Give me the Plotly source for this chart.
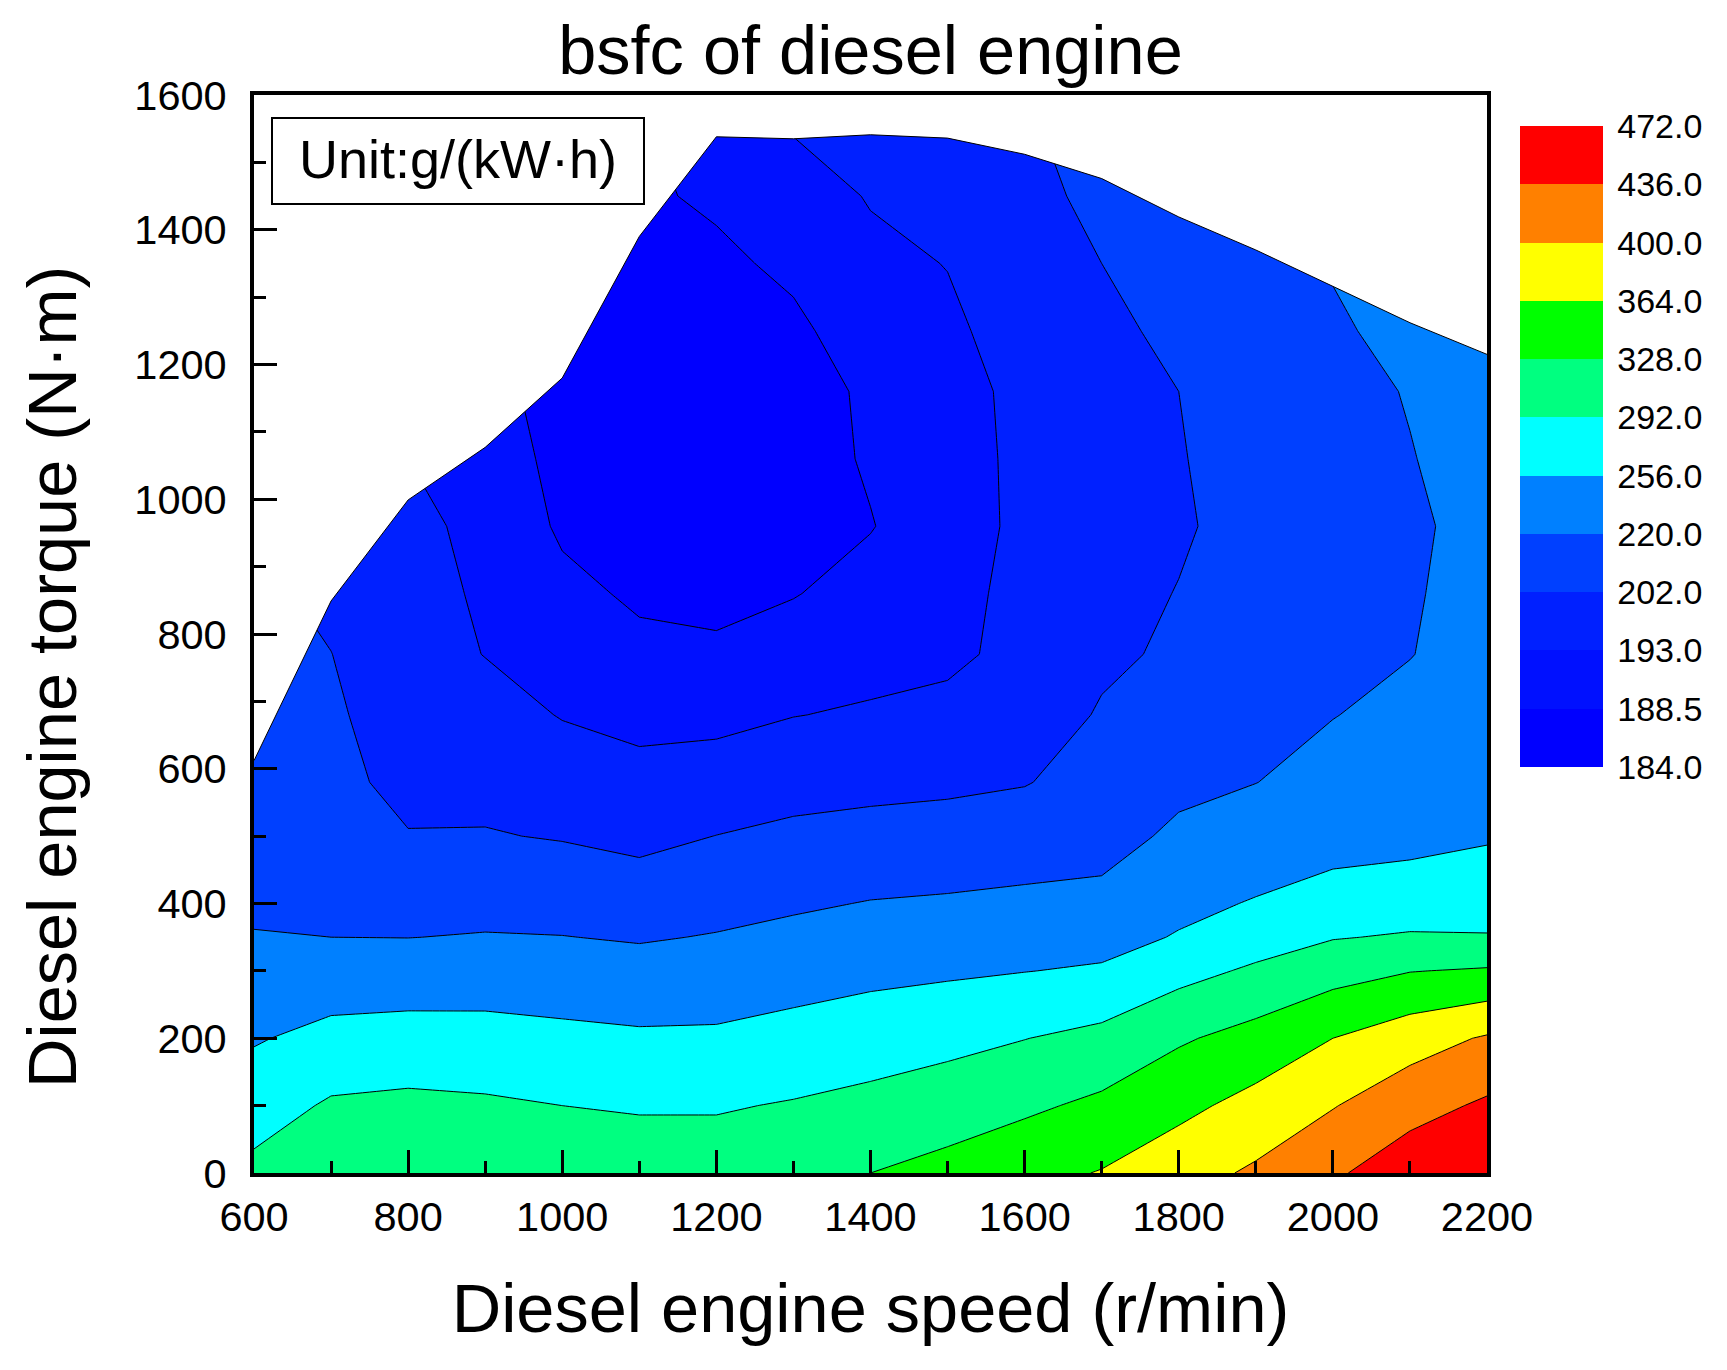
import numpy as np
import plotly.graph_objects as go

# speed (r/min) and torque (N.m) grid the bsfc map is read on
speed = [600, 700, 800, 900, 1000, 1100, 1200, 1300, 1400, 1500, 1600, 1700, 1800, 1900, 2000, 2100, 2200]
torque = [0, 100, 200, 300, 350, 400, 500, 580, 680, 770, 860, 960, 1060, 1160, 1250, 1350, 1450, 1550]

# bsfc in g/(kW.h), one row per speed, one value per torque
bsfc = [
    [301.0, 275.8, 253.1, 233.0, 221.1, 218.2, 214.6, 211.9, 209.2, 207.4, 205.6, 203.8, 202.0, 201.1, 200.7, 200.2, 199.8, 199.3],
    [313.6, 296.3, 266.4, 235.5, 220.0, 217.8, 211.9, 207.4, 204.7, 202.2, 200.2, 198.4, 197.5, 196.6, 196.2, 195.7, 195.3, 194.8],
    [317.2, 299.9, 269.3, 236.6, 219.8, 216.1, 202.9, 199.3, 197.5, 196.6, 195.7, 194.4, 193.0, 192.6, 192.3, 192.1, 191.9, 191.7],
    [313.6, 297.0, 268.2, 238.0, 221.8, 215.0, 202.9, 199.8, 196.2, 192.9, 192.5, 192.3, 192.1, 191.7, 191.2, 190.8, 190.3, 189.9],
    [310.0, 292.0, 264.3, 235.5, 220.7, 213.7, 201.5, 197.4, 192.8, 191.2, 189.7, 187.8, 186.6, 184.7, 184.5, 184.5, 184.5, 184.5],
    [310.0, 289.1, 261.0, 231.9, 218.6, 211.0, 199.9, 195.7, 191.8, 189.6, 187.8, 186.3, 185.1, 184.5, 185.4, 186.7, 187.8, 188.1],
    [310.0, 289.1, 261.4, 235.1, 221.8, 214.8, 202.2, 196.9, 191.9, 189.2, 187.4, 186.3, 185.4, 185.4, 186.0, 187.6, 189.2, 190.5],
    [313.6, 294.5, 267.9, 241.6, 228.3, 217.8, 205.6, 198.9, 192.9, 190.6, 188.3, 187.2, 186.5, 186.7, 187.6, 189.4, 191.2, 193.5],
    [328.0, 301.7, 274.7, 247.7, 234.4, 221.4, 207.4, 199.8, 193.9, 191.65, 190.1, 188.3, 189.0, 189.2, 190.8, 192.1, 193.5, 197.1],
    [338.8, 311.1, 281.9, 251.3, 237.6, 224.0, 208.5, 200.5, 195.5, 192.05, 191.7, 191.2, 191.4, 191.9, 192.3, 193.2, 196.6, 199.8],
    [353.2, 321.9, 291.3, 255.3, 241.2, 227.2, 210.8, 201.6, 198.0, 195.7, 195.3, 194.7, 194.7, 194.5, 196.2, 197.5, 199.3, 200.7],
    [365.8, 335.2, 301.7, 259.6, 244.8, 230.1, 212.8, 208.3, 203.3, 200.7, 199.5, 198.9, 198.9, 199.3, 200.7, 202.0, 206.5, 211.0],
    [385.6, 355.0, 323.7, 280.5, 258.2, 248.1, 227.2, 215.5, 209.2, 204.2, 202.5, 201.1, 201.6, 202.0, 204.5, 209.2, 213.7, 218.2],
    [405.4, 375.5, 340.6, 297.4, 275.8, 258.2, 236.2, 219.8, 216.4, 212.8, 210.1, 207.4, 207.9, 210.1, 212.8, 216.0, 219.1, 223.6],
    [430.6, 398.2, 364.0, 314.3, 290.2, 272.2, 240.5, 230.8, 219.6, 217.3, 215.5, 214.6, 215.0, 216.0, 218.2, 221.8, 227.2, 230.8],
    [457.6, 423.0, 384.5, 326.9, 295.2, 275.8, 245.2, 238.0, 227.9, 219.6, 218.7, 218.2, 219.5, 221.4, 227.6, 234.4, 239.8, 245.2],
    [468.4, 441.4, 403.6, 331.6, 293.8, 279.4, 252.4, 245.9, 238.0, 231.2, 230.1, 227.2, 229.7, 234.4, 239.8, 245.2, 250.6, 254.2],
]

# full load curve, the map is only valid under it
full_load_torque = [612, 849, 999, 1077, 1180, 1390, 1538, 1535, 1541, 1536, 1512, 1476, 1419, 1370, 1316, 1262, 1215]
torque_top = [1600] * len(speed)

# contour levels are not evenly spaced
levels = [184, 188.5, 193, 202, 220, 256, 292, 328, 364, 400, 436, 472]
level_labels = ["184.0", "188.5", "193.0", "202.0", "220.0", "256.0", "292.0", "328.0", "364.0", "400.0", "436.0", "472.0"]
band_colors = ["#0000FF", "#0010FF", "#0020FF", "#0040FF", "#0080FF", "#00FFFF",
               "#00FF80", "#00FF00", "#FFFF00", "#FF8000", "#FF0000"]

FONT = "Liberation Sans"

# plotly only does even contour steps, so work in level number space
level_idx = list(range(len(levels)))
z = np.interp(np.array(bsfc).T, levels, level_idx)

colorscale = []
for i, c in enumerate(band_colors):
    colorscale.append([i / len(band_colors), c])
    colorscale.append([(i + 1) / len(band_colors), c])

fig = go.Figure()

fig.add_trace(go.Contour(
    x=speed, y=torque, z=z,
    zmin=0, zmax=11,
    colorscale=colorscale,
    contours=dict(start=0, end=11, size=1, coloring="fill", showlines=False),
    line=dict(width=0, smoothing=0),
    hoverinfo="skip",
    colorbar=dict(
        x=1.0268, xanchor="left", xpad=0,
        y=0.9712, yanchor="top", ypad=0,
        thickness=83, thicknessmode="pixels",
        len=641, lenmode="pixels",
        outlinewidth=0, borderwidth=0,
        tickmode="array", tickvals=level_idx, ticktext=level_labels,
        ticks="outside", ticklen=8, tickcolor="rgba(0,0,0,0)",
        tickfont=dict(size=34, color="black", family=FONT),
    ),
))

# black isolines on top of the fill
fig.add_trace(go.Contour(
    x=speed, y=torque, z=z,
    showscale=False,
    contours=dict(start=1, end=10, size=1, coloring="none", showlines=True),
    line=dict(color="black", width=1, smoothing=0),
    hoverinfo="skip",
))

# white out everything above the full load curve
fig.add_trace(go.Scatter(
    x=speed, y=torque_top, mode="lines",
    line=dict(width=0), showlegend=False, hoverinfo="skip",
))
fig.add_trace(go.Scatter(
    x=speed, y=full_load_torque, mode="lines",
    line=dict(color="black", width=1),
    fill="tonexty", fillcolor="white",
    showlegend=False, hoverinfo="skip",
))

axis_style = dict(
    showgrid=False, zeroline=False,
    showline=True, linecolor="black", linewidth=4, mirror=True,
    ticks="inside", ticklen=23, tickwidth=3, tickcolor="black",
    minor=dict(ticks="inside", ticklen=12, tickwidth=3, tickcolor="black", dtick=100),
    tickfont=dict(size=41.5, color="black", family=FONT),
)

fig.update_layout(
    width=1711, height=1354,
    margin=dict(l=246, r=232, t=87, b=189, autoexpand=False),
    paper_bgcolor="white", plot_bgcolor="white",
    showlegend=False,
    title=dict(
        text="bsfc of diesel engine", x=0.5, xref="paper", xanchor="center",
        y=0.969, yref="container", yanchor="middle",
        font=dict(size=68.5, color="black", family=FONT),
    ),
    xaxis=dict(
        range=[600, 2200], dtick=200, tick0=600, ticklabelstandoff=4,
        title=dict(text="Diesel engine speed (r/min)", standoff=46,
                   font=dict(size=68.5, color="black", family=FONT)),
        **axis_style,
    ),
    yaxis=dict(range=[0, 1600], dtick=200, tick0=0, ticklabelstandoff=15, **axis_style),
    annotations=[
        dict(text="Diesel engine torque (N·m)", xref="paper", yref="paper",
             x=-0.1638, y=0.4601, textangle=-90, showarrow=False,
             xanchor="center", yanchor="middle",
             font=dict(size=68.5, color="black", family=FONT)),
        dict(text="Unit:g/(kW·h)", xref="paper", yref="paper",
             x=0.1655, y=0.9405, showarrow=False,
             xanchor="center", yanchor="middle",
             font=dict(size=54, color="black", family=FONT)),
    ],
    shapes=[
        dict(type="rect", xref="paper", yref="paper",
             x0=0.0146, x1=0.3163, y0=0.8989, y1=0.9787,
             line=dict(color="black", width=2), fillcolor="rgba(0,0,0,0)"),
    ],
)

fig.write_html("out.html")
